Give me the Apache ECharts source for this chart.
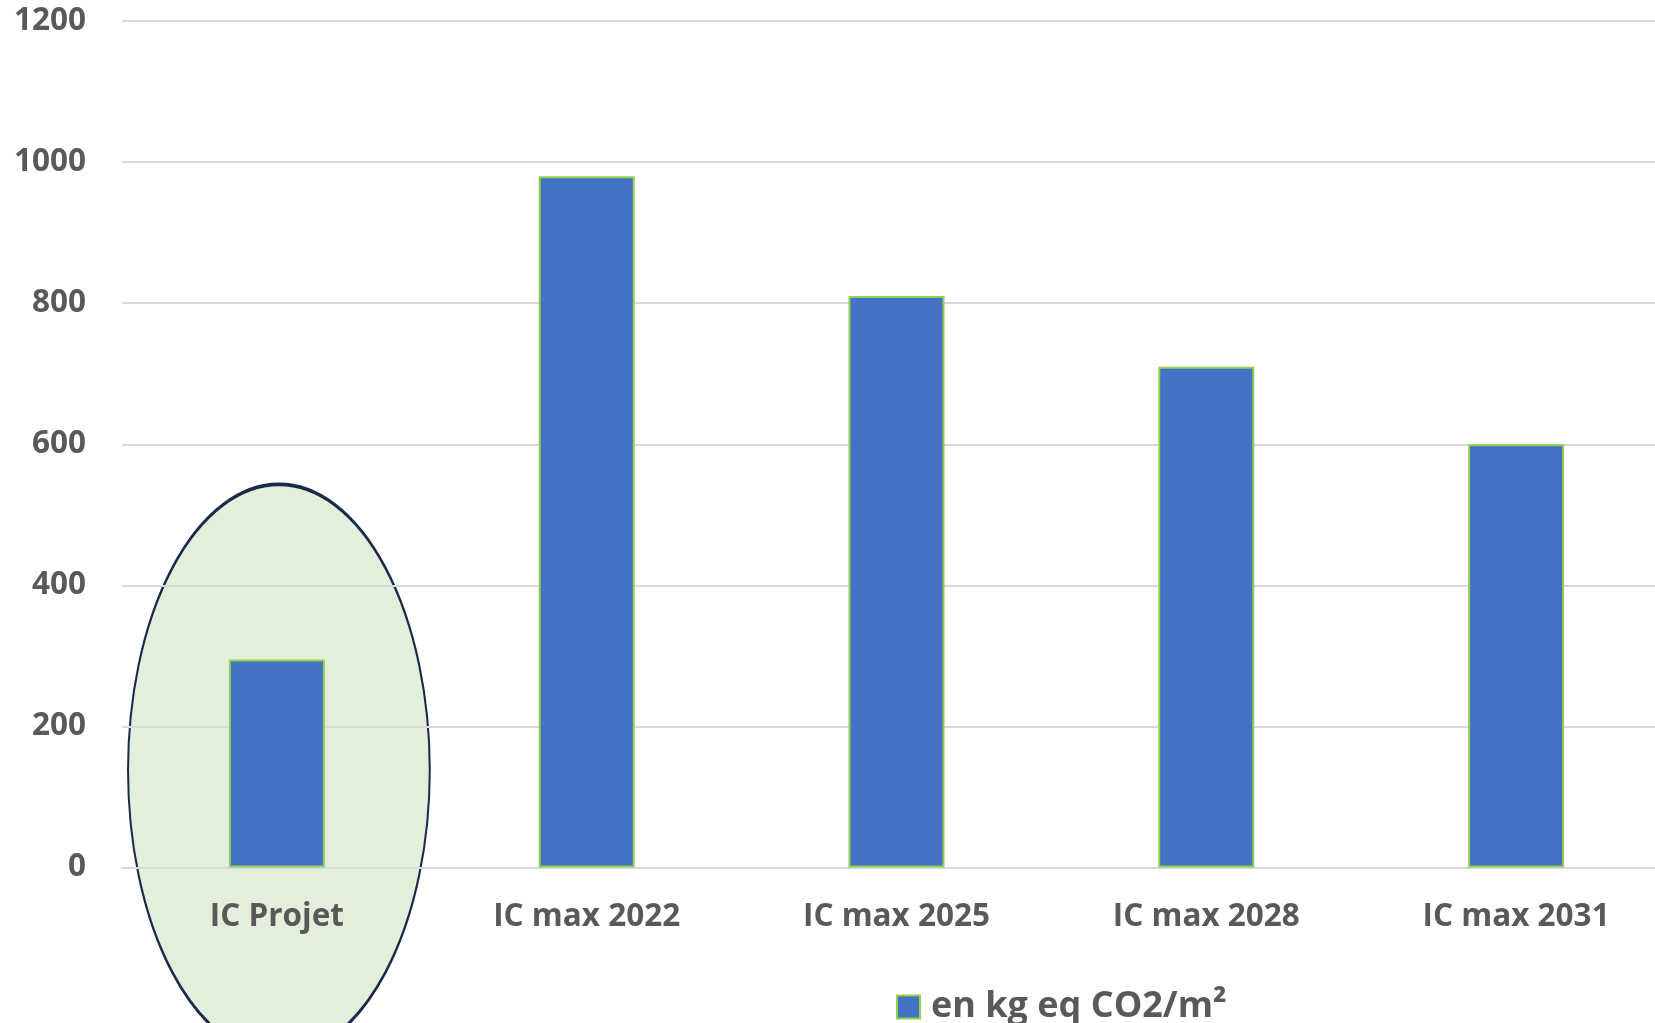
<!DOCTYPE html>
<html>
<head>
<meta charset="utf-8">
<style>
html,body{margin:0;padding:0;background:#fff;}
#main{width:1655px;height:1023px;}
</style>
<script src="https://cdn.jsdelivr.net/npm/echarts@6/dist/echarts.min.js"></script>
</head>
<body>
<div id="main"></div>
<script>
const categories = ['IC Projet', 'IC max 2022', 'IC max 2025', 'IC max 2028', 'IC max 2031'];
const seriesName = 'en kg eq CO2/m²';
const values = [295, 980, 810, 710, 600];
const yTicks = { min: 0, max: 1200, interval: 200 };
// highlight ellipse around first category, in value units
const highlight = { category: 0, centerValue: 138, topValue: 543 };

const FONT = '"Open Sans", "Liberation Sans", sans-serif';
const chart = echarts.init(document.getElementById('main'));
chart.setOption({
  animation: false,
  backgroundColor: '#ffffff',
  grid: { left: 122, width: 1549, top: 21, bottom: 155.5, containLabel: false, outerBoundsMode: 'none' },
  xAxis: {
    type: 'category',
    data: categories,
    axisLine: { show: true, lineStyle: { color: '#d9d9d9', width: 2 } },
    axisTick: { show: false },
    axisLabel: { color: '#595959', fontFamily: FONT, fontWeight: 'bold', fontSize: 31.5, margin: 34 }
  },
  yAxis: {
    type: 'value',
    min: yTicks.min, max: yTicks.max, interval: yTicks.interval,
    axisLine: { show: false },
    axisTick: { show: false },
    splitLine: { lineStyle: { color: '#d9d9d9', width: 2 } },
    axisLabel: { color: '#595959', fontFamily: FONT, fontWeight: 'bold', fontSize: 31.5, margin: 36,
      formatter: v => String(v) }
  },
  legend: {
    left: 891, top: 984,
    itemWidth: 23, itemHeight: 23,
    icon: 'rect',
    itemStyle: { color: '#4472C4', borderColor: '#92D050', borderWidth: 2 },
    textStyle: { color: '#595959', fontFamily: FONT, fontWeight: 'bold', fontSize: 36, padding: [0, 0, 0, 6] },
    data: [seriesName]
  },
  series: [{
    name: seriesName,
    type: 'bar',
    data: values,
    barWidth: '31%',
    itemStyle: { color: '#4472C4', borderColor: '#92D050', borderWidth: 2 }
  }]
});

function drawHighlight() {
  const c = chart.convertToPixel({ xAxisIndex: 0, yAxisIndex: 0 }, [highlight.category, highlight.centerValue]);
  const t = chart.convertToPixel({ xAxisIndex: 0, yAxisIndex: 0 }, [highlight.category, highlight.topValue]);
  const c1 = chart.convertToPixel({ xAxisIndex: 0, yAxisIndex: 0 }, [highlight.category + 1, 0]);
  const band = c1[0] - c[0];
  const ry = c[1] - t[1];
  const rx = band * 0.487;
  chart.setOption({
    graphic: [{
      type: 'circle',
      z: -1,
      x: c[0] + 2, y: c[1],
      scaleX: rx / ry, scaleY: 1,
      shape: { cx: 0, cy: 0, r: ry },
      style: { fill: '#E2EFDA', stroke: '#1B2A4A', lineWidth: 2 / (rx / ry) },
      silent: true
    }]
  });
}
drawHighlight();
</script>
</body>
</html>
